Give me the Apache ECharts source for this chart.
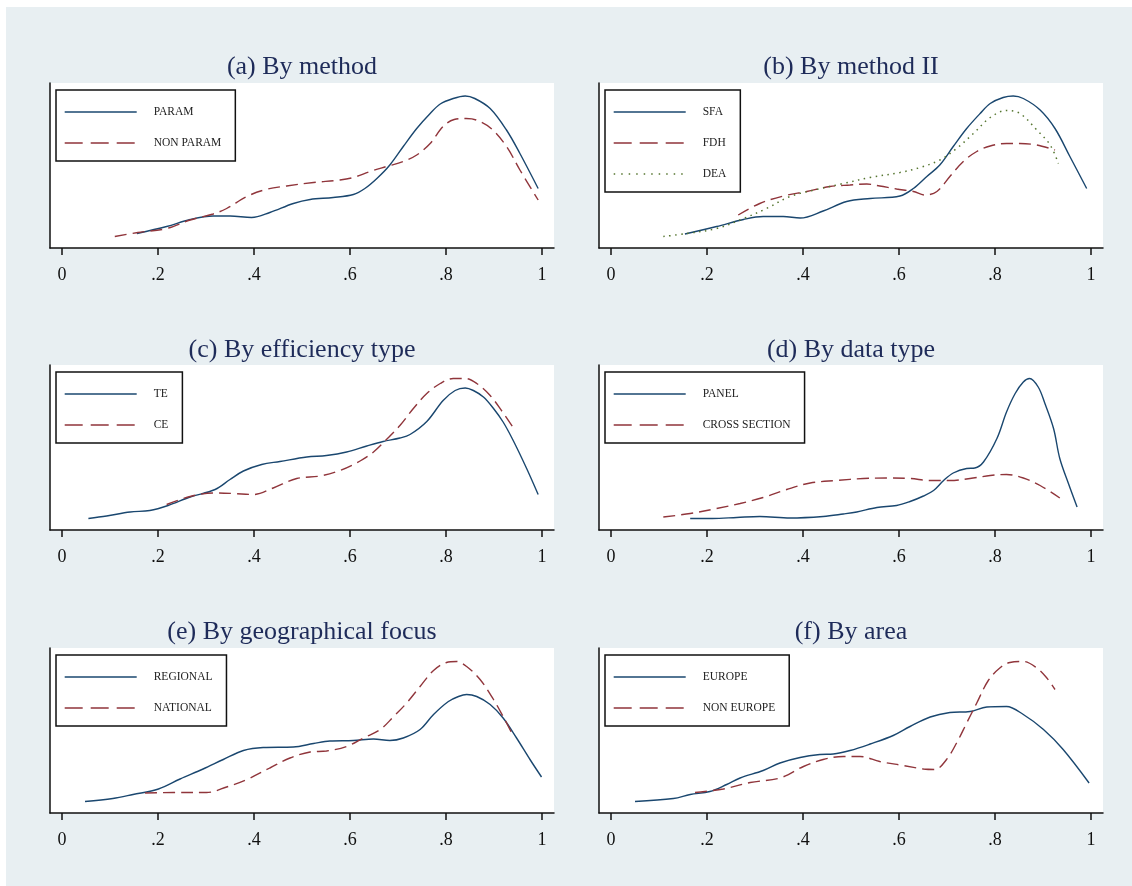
<!DOCTYPE html>
<html>
<head>
<meta charset="utf-8">
<title>kdensity by group</title>
<script src="https://cdn.jsdelivr.net/npm/echarts@6/dist/echarts.min.js"></script>
<style>
  html, body { margin: 0; padding: 0; background: #fff; }
  #main { position: absolute; left: 6px; top: 7px; width: 1126px; height: 879px; background: #e8eff2; }
</style>
</head>
<body>
<div id="main"></div>
<script>
// x axis ticks
var tickVals = [0, 0.2, 0.4, 0.6, 0.8, 1];
var tickLabels = ['0', '.2', '.4', '.6', '.8', '1'];

// (a) By method
var paramX = [0.156,0.218,0.267,0.315,0.350,0.395,0.433,0.482,0.517,0.565,0.607,0.631,0.656,0.683,0.711,0.739,0.767,0.788,0.815,0.840,0.860,0.892,0.926,0.954,0.992];
var paramY = [0.29,0.43,0.57,0.64,0.64,0.61,0.71,0.89,0.97,1.01,1.07,1.19,1.39,1.66,2.03,2.39,2.69,2.88,2.99,3.04,2.99,2.79,2.36,1.89,1.19];
var nonparamX = [0.110,0.158,0.218,0.267,0.315,0.343,0.385,0.425,0.468,0.524,0.579,0.607,0.642,0.676,0.711,0.739,0.767,0.794,0.817,0.842,0.863,0.894,0.926,0.954,0.992];
var nonparamY = [0.23,0.31,0.39,0.56,0.68,0.79,1.03,1.17,1.24,1.31,1.36,1.41,1.53,1.63,1.73,1.86,2.09,2.43,2.57,2.59,2.56,2.39,2.03,1.56,0.96];

// (b) By method II
var sfaX = [0.154,0.220,0.276,0.317,0.359,0.394,0.442,0.491,0.540,0.602,0.630,0.658,0.685,0.713,0.741,0.769,0.790,0.817,0.838,0.859,0.894,0.925,0.956,0.991];
var sfaY = [0.28,0.43,0.57,0.63,0.63,0.60,0.74,0.93,0.99,1.04,1.19,1.43,1.66,2.03,2.39,2.69,2.89,3.01,3.04,2.99,2.76,2.39,1.83,1.19];
var fdhX = [0.265,0.310,0.359,0.408,0.456,0.498,0.533,0.560,0.595,0.630,0.654,0.679,0.706,0.734,0.762,0.790,0.824,0.852,0.887,0.925];
var fdhY = [0.66,0.89,1.04,1.13,1.23,1.26,1.28,1.24,1.18,1.13,1.06,1.13,1.43,1.73,1.93,2.04,2.09,2.09,2.06,1.96];
var deaX = [0.109,0.158,0.220,0.276,0.324,0.373,0.428,0.484,0.540,0.602,0.644,0.685,0.720,0.755,0.790,0.824,0.852,0.887,0.915,0.932];
var deaY = [0.23,0.29,0.39,0.59,0.79,1.03,1.17,1.29,1.41,1.51,1.61,1.76,1.99,2.29,2.61,2.75,2.69,2.36,2.06,1.69];

// (c) By efficiency type
var teX = [0.055,0.093,0.142,0.183,0.221,0.267,0.319,0.350,0.378,0.416,0.454,0.510,0.551,0.593,0.635,0.669,0.704,0.725,0.760,0.794,0.819,0.840,0.857,0.878,0.899,0.919,0.940,0.968,0.992];
var teY = [0.23,0.28,0.36,0.39,0.49,0.66,0.81,1.01,1.18,1.31,1.37,1.46,1.49,1.56,1.68,1.77,1.84,1.91,2.17,2.59,2.79,2.84,2.79,2.66,2.43,2.16,1.79,1.23,0.71];
var ceX = [0.218,0.267,0.315,0.357,0.399,0.440,0.489,0.538,0.579,0.621,0.649,0.676,0.704,0.732,0.760,0.788,0.815,0.840,0.864,0.892,0.917,0.939];
var ceY = [0.51,0.67,0.74,0.73,0.71,0.84,1.03,1.08,1.19,1.38,1.56,1.81,2.09,2.43,2.73,2.93,3.03,3.03,2.93,2.69,2.37,2.06];

// (d) By data type
var panelX = [0.165,0.211,0.262,0.310,0.373,0.442,0.484,0.512,0.554,0.595,0.623,0.651,0.672,0.693,0.713,0.741,0.758,0.776,0.804,0.824,0.842,0.859,0.872,0.890,0.904,0.922,0.935,0.953,0.971];
var panelY = [0.23,0.23,0.25,0.27,0.24,0.27,0.32,0.36,0.45,0.49,0.57,0.68,0.79,0.99,1.14,1.23,1.24,1.36,1.83,2.36,2.73,2.96,3.03,2.86,2.53,2.03,1.43,0.93,0.46];
var crossX = [0.109,0.165,0.220,0.269,0.317,0.366,0.415,0.470,0.526,0.574,0.623,0.665,0.706,0.748,0.790,0.824,0.859,0.894,0.935];
var crossY = [0.26,0.33,0.43,0.53,0.65,0.81,0.94,0.99,1.03,1.04,1.03,0.99,0.99,1.03,1.09,1.11,1.04,0.89,0.64];

// (e) By geographical focus
var regionalX = [0.048,0.106,0.148,0.201,0.246,0.294,0.336,0.378,0.419,0.482,0.524,0.558,0.607,0.649,0.683,0.711,0.746,0.774,0.805,0.826,0.843,0.864,0.892,0.919,0.947,0.975,0.999];
var regionalY = [0.23,0.29,0.37,0.48,0.68,0.88,1.07,1.25,1.31,1.32,1.39,1.44,1.45,1.48,1.45,1.50,1.67,1.97,2.23,2.33,2.37,2.33,2.17,1.90,1.50,1.07,0.72];
var nationalX = [0.173,0.232,0.301,0.343,0.385,0.433,0.475,0.517,0.551,0.593,0.628,0.663,0.690,0.718,0.746,0.774,0.801,0.822,0.843,0.871,0.899,0.919,0.937];
var nationalY = [0.40,0.41,0.41,0.52,0.67,0.90,1.10,1.22,1.24,1.33,1.50,1.67,1.92,2.20,2.53,2.85,3.01,3.03,2.93,2.67,2.27,1.93,1.60];

// (f) By area
var europeX = [0.050,0.130,0.165,0.206,0.241,0.269,0.317,0.352,0.394,0.435,0.463,0.498,0.540,0.588,0.623,0.665,0.706,0.748,0.783,0.824,0.859,0.901,0.942,0.996];
var europeY = [0.23,0.29,0.37,0.43,0.57,0.70,0.85,1.00,1.11,1.17,1.18,1.25,1.38,1.55,1.73,1.92,2.01,2.03,2.12,2.13,1.97,1.67,1.27,0.60];
var noneuropeX = [0.175,0.234,0.290,0.352,0.401,0.442,0.484,0.519,0.560,0.609,0.651,0.675,0.699,0.720,0.741,0.762,0.786,0.810,0.831,0.859,0.887,0.908,0.925];
var noneuropeY = [0.41,0.48,0.61,0.70,0.93,1.07,1.13,1.13,1.03,0.95,0.88,0.87,1.07,1.40,1.80,2.20,2.65,2.90,3.01,3.03,2.90,2.70,2.47];

var panels = [
    {title: '(a) By method', names: ['PARAM', 'NON PARAM'], xs: [paramX, nonparamX], ys: [paramY, nonparamY]},
    {title: '(b) By method II', names: ['SFA', 'FDH', 'DEA'], xs: [sfaX, fdhX, deaX], ys: [sfaY, fdhY, deaY]},
    {title: '(c) By efficiency type', names: ['TE', 'CE'], xs: [teX, ceX], ys: [teY, ceY]},
    {title: '(d) By data type', names: ['PANEL', 'CROSS SECTION'], xs: [panelX, crossX], ys: [panelY, crossY]},
    {title: '(e) By geographical focus', names: ['REGIONAL', 'NATIONAL'], xs: [regionalX, nationalX], ys: [regionalY, nationalY]},
    {title: '(f) By area', names: ['EUROPE', 'NON EUROPE'], xs: [europeX, noneuropeX], ys: [europeY, noneuropeY]}
];

// line look per series position: solid navy, dashed maroon, dotted green
var colors = ['#1a476f', '#90353b', '#55752f'];
var dashes = ['solid', [12, 6], [1.5, 4.5]];
var legendDashes = ['solid', [18, 8], [1.5, 6]];

var font = '"Liberation Serif", "Times New Roman", serif';
var gridLeft = [44, 593];
var gridTop = [76, 358, 641];
var titleTop = [47, 330, 612];
var legendTop = [83, 365, 648];
var gridW = 504, gridH = 165;

function zip(xs, ys) {
    var out = [];
    for (var i = 0; i < xs.length; i++) {
        out.push([xs[i], ys[i]]);
    }
    return out;
}

var option = {
    animation: false,
    title: [], grid: [], xAxis: [], yAxis: [], legend: [], series: []
};

for (var p = 0; p < panels.length; p++) {
    var col = p % 2, row = Math.floor(p / 2);
    var pan = panels[p];

    option.title.push({
        text: pan.title,
        left: gridLeft[col] + gridW / 2,
        top: titleTop[row],
        textAlign: 'center',
        padding: 0,
        textStyle: {fontFamily: font, fontSize: 26, fontWeight: 'normal', color: '#1e2b59'}
    });

    option.grid.push({
        left: gridLeft[col], top: gridTop[row], width: gridW, height: gridH,
        show: true, backgroundColor: '#fff', borderWidth: 0
    });

    option.xAxis.push({
        gridIndex: p,
        type: 'value',
        min: -0.025,
        max: 1.025,
        splitLine: {show: false},
        axisLine: {show: true, onZero: false, lineStyle: {color: '#111', width: 1.5}},
        axisTick: {show: true, customValues: tickVals, length: 7, lineStyle: {color: '#111', width: 1.5}},
        axisLabel: {
            customValues: tickVals,
            margin: 18,
            fontFamily: font,
            fontSize: 18,
            color: '#111',
            formatter: function (v) {
                var k = Math.round(v * 5);
                return tickLabels[k];
            }
        }
    });

    option.yAxis.push({
        gridIndex: p,
        type: 'value',
        min: 0,
        max: 3.3,
        splitLine: {show: false},
        axisLine: {show: true, onZero: false, lineStyle: {color: '#111', width: 1.5}},
        axisTick: {show: false},
        axisLabel: {show: false}
    });

    var legendData = [];
    for (var s = 0; s < pan.names.length; s++) {
        legendData.push({
            name: pan.names[s],
            lineStyle: {type: legendDashes[s], width: 1.4, color: colors[s]}
        });
        option.series.push({
            name: pan.names[s],
            type: 'line',
            xAxisIndex: p,
            yAxisIndex: p,
            symbol: 'none',
            showSymbol: false,
            smooth: 0.35,
            silent: true,
            lineStyle: {color: colors[s], width: s == 2 ? 1.5 : 1.4, type: dashes[s]},
            itemStyle: {color: colors[s]},
            data: zip(pan.xs[s], pan.ys[s])
        });
    }

    option.legend.push({
        orient: 'vertical',
        left: gridLeft[col] + 6,
        top: legendTop[row],
        data: legendData,
        selectedMode: false,
        itemWidth: 72,
        itemHeight: 14,
        itemGap: 19,
        padding: [16, 14, 12, 8],
        borderColor: '#111',
        borderWidth: 1.5,
        backgroundColor: '#fff',
        // hide the marker dot, keep only the line sample
        itemStyle: {color: 'rgba(0,0,0,0)', borderWidth: 0, opacity: 0},
        textStyle: {fontFamily: font, fontSize: 11.5, color: '#222', padding: [0, 0, 0, 12]}
    });
}

var myChart = echarts.init(document.getElementById('main'));
myChart.setOption(option);
</script>
</body>
</html>
